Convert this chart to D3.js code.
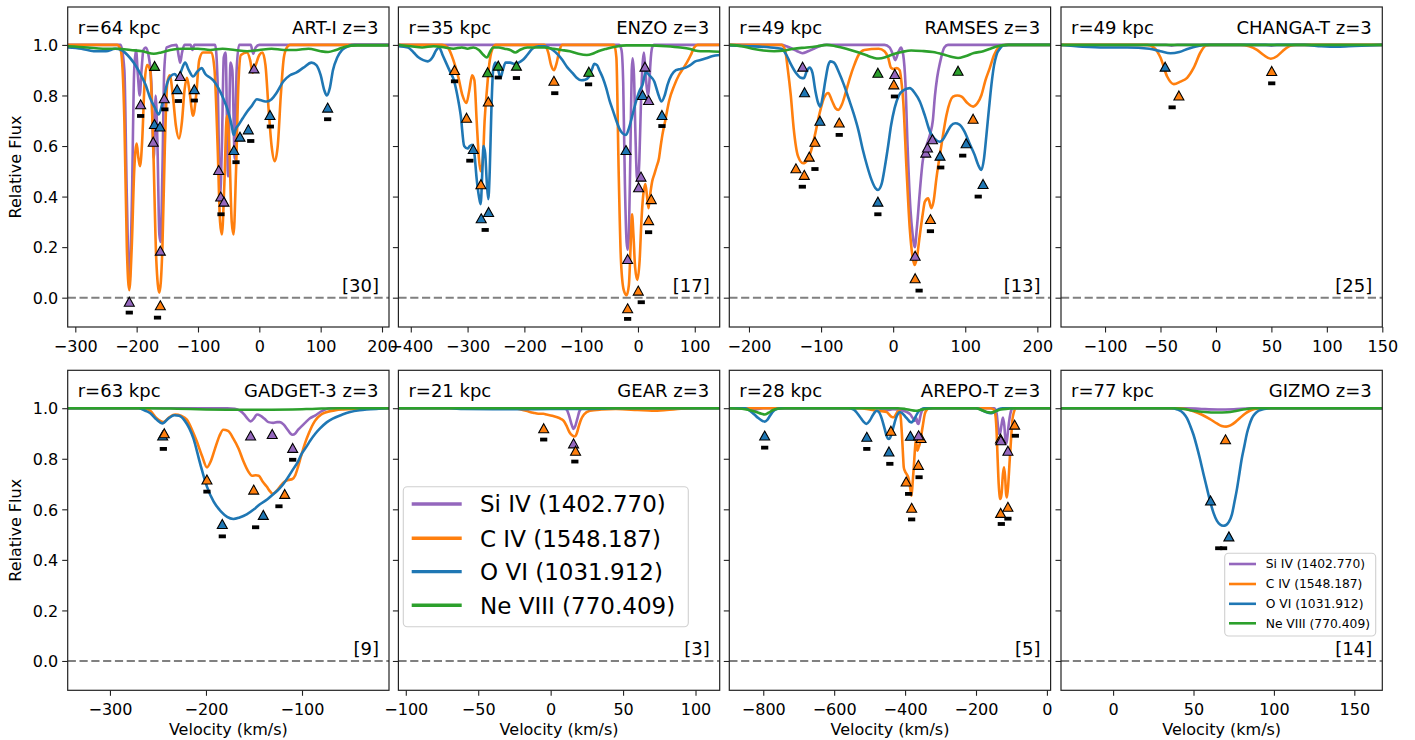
<!DOCTYPE html>
<html><head><meta charset="utf-8">
<script src="https://cdn.jsdelivr.net/npm/d3@7"></script>
<style>body{margin:0;background:#fff} text{font-family:"DejaVu Sans",sans-serif;fill:#000}</style>
</head><body>
<svg id="c" width="1415" height="740"></svg>
<script>
// ---------- panel meta ----------
const panelNames = ["ART-I","ENZO","RAMSES","CHANGA-T","GADGET-3","GEAR","AREPO-T","GIZMO"];
const panelRadii = [64,35,49,49,63,21,28,77];
const panelCounts = [30,17,13,25,9,3,5,14];
const xDomains = [[-312.4,211.4],[-421.8,143.9],[-227.3,218.4],[-139.7,150],[-344,-9.4],[-105.1,116.7],[-895.8,10.4],[-32.4,167.4]];
const xTickValues = [[-300,-200,-100,0,100,200],[-400,-300,-200,-100,0,100],[-200,-100,0,100,200],[-100,-50,0,50,100,150],[-300,-200,-100],[-100,-50,0,50,100],[-800,-600,-400,-200,0],[0,50,100,150]];
const yTickValues = [0,0.2,0.4,0.6,0.8,1.0];
const ionKeys = ["Si","C","O","Ne"];
const ionLabels = ["Si IV (1402.770)","C IV (1548.187)","O VI (1031.912)","Ne VIII (770.409)"];

// ---------- ART-I ----------
const ART_SiIV = [[-312,1],[-226,1],[-220,0.9],[-216,0.4],[-212,0.06],[-208,0.35],[-204,0.9],[-201,0.98],[-198,0.88],[-195,0.8],[-192,0.9],[-189,0.98],[-185,0.99],[-180,0.95],[-176,0.85],[-172,0.55],[-169,0.8],[-166,0.6],[-163,0.25],[-161,0.22],[-158,0.5],[-155,0.9],[-151,0.99],[-135,1],[-131,0.95],[-129,0.93],[-126,0.97],[-122,1],[-112,1],[-109,0.98],[-106,1],[-72,1],[-68,0.85],[-64,0.4],[-61,0.6],[-58,0.95],[-55,0.97],[-51,0.48],[-47,0.93],[-44,0.9],[-40,0.55],[-37,0.9],[-33,1],[-14,1],[-10,0.965],[-6,0.99],[0,1],[211,1]];
const ART_CIV = [[-312,1],[-232,1],[-226,0.98],[-220,0.7],[-216,0.2],[-212,0.03],[-208,0.2],[-204,0.5],[-200,0.61],[-197,0.55],[-194.5,0.52],[-191,0.62],[-187,0.85],[-183,0.92],[-178,0.9],[-173,0.6],[-168,0.15],[-163,0.02],[-158,0.2],[-154,0.6],[-150,0.85],[-146,0.88],[-141,0.8],[-136,0.68],[-131,0.63],[-126,0.7],[-122,0.82],[-118,0.87],[-114,0.82],[-108,0.72],[-103,0.8],[-98,0.94],[-92,0.97],[-78,0.97],[-73,0.9],[-68,0.6],[-64,0.3],[-61,0.25],[-57,0.45],[-53,0.72],[-49,0.6],[-45,0.3],[-42,0.25],[-38,0.5],[-34,0.85],[-30,0.96],[-20,0.97],[-15,0.94],[-11,0.89],[-6,0.92],[0,0.96],[5,0.97],[10,0.92],[15,0.75],[20,0.6],[25,0.54],[30,0.6],[35,0.8],[40,0.95],[45,0.99],[50,1],[211,1]];
const ART_OVI = [[-312,0.99],[-290,0.985],[-270,0.975],[-250,0.975],[-235,0.985],[-225,0.98],[-215,0.96],[-205,0.93],[-195,0.89],[-185,0.84],[-178,0.79],[-170,0.75],[-164,0.725],[-159,0.76],[-155,0.8],[-150,0.85],[-145,0.875],[-138,0.885],[-132,0.87],[-127,0.9],[-121,0.93],[-115,0.9],[-108,0.875],[-101,0.895],[-94,0.908],[-88,0.885],[-80,0.87],[-75,0.86],[-67,0.83],[-59,0.79],[-50,0.73],[-45,0.68],[-42,0.644],[-38,0.67],[-34,0.683],[-27,0.71],[-20,0.736],[-12,0.76],[-4,0.785],[4,0.78],[12,0.776],[20,0.785],[28,0.81],[39,0.855],[50,0.88],[60,0.89],[72,0.91],[85,0.93],[93,0.92],[100,0.88],[106,0.82],[110,0.8],[115,0.83],[120,0.9],[127,0.95],[135,0.98],[145,0.995],[155,1],[211,1]];
const ART_NeVIII = [[-312,0.995],[-280,0.99],[-255,0.985],[-230,0.985],[-210,0.98],[-190,0.975],[-172,0.965],[-160,0.97],[-145,0.98],[-125,0.985],[-100,0.985],[-80,0.98],[-60,0.985],[-40,0.98],[-20,0.975],[0,0.98],[20,0.985],[40,0.98],[60,0.98],[80,0.985],[100,0.975],[112,0.972],[125,0.98],[140,0.993],[160,0.998],[211,0.998]];
const ART_tri = [["Si",-212,-0.016],["C",-161.4,-0.03],["Si",-193.5,0.765],["Ne",-170.7,0.917],["Si",-173,0.617],["O",-171,0.687],["O",-162,0.677],["Si",-161.4,0.186],["Si",-155,0.789],["Si",-129,0.877],["O",-134,0.825],["O",-106,0.825],["Si",-66.3,0.505],["Si",-63,0.40],["Si",-57.6,0.38],["O",-41.5,0.584],["O",-31.5,0.637],["O",-18,0.666],["Si",-8.7,0.907],["O",17.4,0.723],["O",111.4,0.752]];
const ART_bar = [[-212,-0.059],[-166,-0.079],[-193.5,0.719],[-154,0.745],[-132,0.778],[-106,0.78],[-62.5,0.33],[-38,0.536],[-14,0.62],[18,0.677],[111.4,0.706]];

// ---------- ENZO ----------
const ENZO_SiIV = [[-422,1],[-33,1],[-29,0.98],[-26,0.85],[-23,0.45],[-20,0.22],[-18,0.19],[-16,0.25],[-13.5,0.55],[-11,0.9],[-9.4,0.947],[-7,0.88],[-4.5,0.65],[-2,0.48],[0,0.46],[2.5,0.55],[5,0.75],[8,0.92],[10.5,0.97],[13,0.9],[15.5,0.83],[18,0.8],[20,0.85],[22,0.93],[25,0.99],[28,1],[144,1]];
const ENZO_CIV = [[-422,1],[-345,1],[-335,0.99],[-325,0.94],[-316,0.87],[-309,0.8],[-302,0.77],[-297,0.82],[-292,0.88],[-288,0.86],[-284,0.7],[-280,0.55],[-277,0.5],[-273,0.55],[-270,0.7],[-266,0.82],[-262,0.92],[-257,0.98],[-250,1],[-165,1],[-158,0.97],[-153,0.92],[-148,0.9],[-143,0.93],[-138,0.98],[-133,1],[-42,1],[-38,0.95],[-34,0.5],[-30,0.15],[-25,0.03],[-20,0.01],[-16,0.05],[-13,0.2],[-10.5,0.33],[-8,0.25],[-5,0.12],[-1,0.07],[3,0.15],[6,0.3],[9,0.4],[13,0.45],[16,0.4],[18.5,0.354],[21,0.4],[25,0.46],[29,0.49],[33,0.52],[37,0.552],[40,0.6],[43,0.644],[48,0.7],[55,0.78],[64,0.84],[72,0.88],[79,0.905],[86,0.93],[93,0.96],[99,0.99],[105,1],[144,1]];
const ENZO_OVI = [[-422,0.995],[-405,0.99],[-395,0.97],[-386,0.95],[-378,0.94],[-370,0.935],[-362,0.95],[-355,0.98],[-350,0.99],[-344,0.96],[-338,0.93],[-330,0.89],[-324,0.86],[-318,0.8],[-312,0.72],[-306,0.6],[-300,0.59],[-296,0.6],[-292,0.605],[-288,0.57],[-284,0.47],[-280,0.4],[-277,0.37],[-274,0.5],[-272,0.6],[-269,0.57],[-266,0.45],[-263.5,0.39],[-261,0.5],[-258,0.75],[-255,0.9],[-251,0.93],[-246,0.9],[-242,0.87],[-238,0.9],[-233,0.93],[-225,0.93],[-218,0.925],[-210,0.93],[-203,0.94],[-195,0.96],[-186,0.985],[-175,0.995],[-165,0.995],[-150,0.98],[-140,0.96],[-133,0.94],[-124,0.91],[-115,0.888],[-108,0.87],[-100,0.86],[-93,0.862],[-86,0.875],[-80,0.91],[-77,0.925],[-72,0.92],[-68,0.9],[-62,0.87],[-56,0.83],[-50,0.78],[-44,0.74],[-38,0.7],[-33,0.67],[-27,0.65],[-21,0.644],[-16,0.67],[-10,0.72],[-3.5,0.776],[3,0.82],[8,0.842],[14,0.894],[20,0.88],[28.7,0.855],[35,0.81],[41.5,0.776],[47,0.8],[52,0.842],[59,0.88],[66.8,0.9],[75,0.905],[84,0.91],[92,0.92],[101,0.935],[110,0.94],[120,0.947],[130,0.955],[144,0.96]];
const ENZO_NeVIII = [[-422,1],[-400,0.995],[-380,0.99],[-360,0.995],[-340,0.99],[-325,0.985],[-310,0.99],[-300,0.985],[-290,0.99],[-280,0.98],[-272,0.96],[-266,0.95],[-261,0.97],[-255,0.99],[-245,0.99],[-235,0.985],[-225,0.98],[-216,0.97],[-208,0.98],[-195,0.99],[-180,0.99],[-165,0.99],[-150,0.985],[-135,0.98],[-120,0.975],[-105,0.965],[-90,0.96],[-80,0.965],[-70,0.975],[-55,0.985],[-40,0.993],[-20,0.998],[20,0.998],[50,0.995],[75,0.99],[90,0.985],[100,0.978],[110,0.975],[125,0.975],[144,0.973]];
const ENZO_tri = [["C",-323,0.901],["C",-301.8,0.712],["O",-290,0.588],["C",-276.5,0.449],["O",-276,0.314],["O",-263,0.339],["C",-263.5,0.776],["Ne",-264.7,0.892],["Ne",-246,0.918],["Ne",-214,0.918],["C",-148,0.858],["Ne",-86.5,0.894],["Si",12.3,0.914],["O",8.1,0.802],["Si",18.7,0.782],["O",42.2,0.723],["O",-21.1,0.584],["Si",5.3,0.479],["Si",1.1,0.437],["C",23.4,0.39],["C",18.7,0.307],["Si",-18.2,0.153],["C",0.5,0.028],["C",-18.2,-0.042]];
const ENZO_bar = [[-323,0.856],[-296,0.542],[-269,0.268],[-246,0.871],[-214,0.869],[-146.5,0.809],[-87,0.844],[42.2,0.679],[18.7,0.259],[5.8,-0.018],[-18.2,-0.084]];

// ---------- RAMSES ----------
const RAMSES_SiIV = [[-227,1],[-155,1],[-148,0.995],[-140,0.985],[-133,0.975],[-126,0.967],[-118,0.975],[-110,0.985],[-102,0.995],[-95,1],[-12,1],[-5,0.99],[0,0.96],[3,0.94],[7,0.97],[11,0.99],[14,0.96],[17,0.85],[20,0.6],[24,0.35],[27,0.25],[30,0.2],[33,0.28],[37,0.42],[41,0.54],[46,0.6],[51,0.644],[55,0.7],[58,0.8],[61,0.87],[65,0.93],[71,0.99],[76,1],[218,1]];
const RAMSES_CIV = [[-227,1],[-155,1],[-150,0.98],[-146,0.9],[-142,0.8],[-138,0.67],[-132,0.56],[-125,0.532],[-119,0.545],[-114,0.58],[-108,0.65],[-102,0.73],[-96,0.79],[-90,0.81],[-85,0.78],[-80,0.75],[-76,0.743],[-71,0.765],[-66,0.81],[-60,0.87],[-54,0.92],[-48,0.96],[-40,0.98],[-20,0.985],[-12,0.975],[-7,0.95],[-3,0.91],[1,0.905],[5,0.908],[9,0.9],[12,0.84],[14,0.776],[18.5,0.51],[23,0.275],[27,0.16],[30,0.129],[33,0.16],[37,0.248],[41,0.33],[44,0.38],[48.5,0.393],[53,0.354],[56,0.38],[60,0.472],[67,0.604],[74,0.723],[83,0.795],[89,0.8],[95,0.795],[103,0.77],[111,0.756],[117,0.77],[122.5,0.802],[128,0.86],[134,0.908],[140,0.96],[145.5,0.987],[152,0.998],[158,1],[218,1]];
const RAMSES_OVI = [[-227,0.998],[-200,0.995],[-170,0.99],[-155,0.985],[-148,0.96],[-143,0.93],[-135,0.89],[-128,0.87],[-124,0.868],[-120,0.895],[-116,0.91],[-112,0.89],[-108,0.82],[-104,0.77],[-101,0.756],[-98,0.79],[-94,0.86],[-90,0.92],[-87,0.935],[-82,0.93],[-75,0.89],[-68,0.84],[-62,0.79],[-55,0.73],[-48,0.66],[-42,0.584],[-36,0.52],[-30,0.466],[-25,0.435],[-21,0.426],[-16,0.45],[-11.5,0.518],[-7,0.6],[-3,0.68],[2,0.75],[8,0.8],[14,0.82],[23,0.829],[30,0.81],[37,0.776],[44,0.72],[51,0.657],[57,0.63],[64.7,0.617],[70,0.63],[74,0.65],[80,0.68],[86,0.69],[92,0.685],[99,0.657],[106,0.61],[113,0.565],[118,0.525],[122.5,0.505],[126,0.55],[129.4,0.644],[133,0.75],[136.3,0.842],[140,0.92],[143.3,0.96],[148,0.985],[152.4,0.998],[160,1],[218,1]];
const RAMSES_NeVIII = [[-227,1],[-210,0.995],[-195,0.985],[-180,0.978],[-165,0.975],[-150,0.978],[-138,0.985],[-120,0.99],[-105,0.995],[-92,1],[-80,0.995],[-65,0.985],[-50,0.972],[-38,0.96],[-28,0.95],[-20,0.946],[-10,0.952],[0,0.963],[12,0.972],[25,0.978],[40,0.976],[55,0.972],[70,0.962],[82,0.952],[90,0.948],[100,0.955],[112,0.968],[125,0.975],[135,0.985],[145,0.995],[160,1],[218,1]];
const RAMSES_tri = [["Si",-125.6,0.914],["O",-122.9,0.813],["C",-134.9,0.512],["C",-123.3,0.486],["C",-116.4,0.558],["C",-108.5,0.617],["O",-101.6,0.700],["C",-74.8,0.693],["Ne",-21.2,0.89],["O",-21.2,0.38],["C",0.9,0.844],["Si",2.3,0.885],["Si",30.5,0.166],["C",30.5,0.077],["C",51.7,0.311],["Si",45.3,0.574],["Si",47.6,0.594],["Si",54.5,0.627],["O",65,0.562],["Ne",90,0.898],["C",110.9,0.708],["O",101.2,0.611],["O",124.7,0.45]];
const RAMSES_bar = [[-126,0.439],[-108.5,0.509],[-74.8,0.644],[-21.2,0.33],[1.8,0.796],[36,0.028],[51.7,0.263],[66,0.515],[96.5,0.562],[118,0.40]];

// ---------- CHANGA-T ----------
const CHANGA_SiIV = [[-140,1],[-45,1],[-40,0.997],[-35,1],[45,1],[50,0.997],[55,1],[150,1]];
const CHANGA_CIV = [[-140,1],[-62,1],[-56,0.99],[-50,0.95],[-44,0.875],[-38,0.845],[-32,0.855],[-26,0.87],[-20,0.91],[-14,0.97],[-9,0.998],[-5,1],[22,1],[30,0.995],[37,0.98],[43,0.96],[49.5,0.945],[55,0.955],[60,0.975],[67,0.997],[72,1],[150,1]];
const CHANGA_OVI = [[-140,1],[-120,0.993],[-100,0.99],[-80,0.99],[-60,0.985],[-50,0.975],[-41,0.967],[-33,0.972],[-25,0.985],[-17,0.995],[-10,1],[80,1],[95,0.995],[110,0.993],[125,0.996],[150,1]];
const CHANGA_NeVIII = [[-140,1],[150,1]];
const CHANGA_tri = [["O",-45.8,0.914],["C",-33.4,0.8],["C",50.3,0.897]];
const CHANGA_bar = [[-39.5,0.753],[50.3,0.848]];

// ---------- GADGET-3 ----------
const GADGET_SiIV = [[-344,1],[-178,1],[-170,0.998],[-164.6,0.99],[-160,0.975],[-157,0.96],[-153.5,0.948],[-150,0.96],[-147,0.975],[-143,0.97],[-139,0.958],[-135,0.945],[-130,0.942],[-126,0.945],[-123,0.945],[-119,0.935],[-115,0.915],[-112,0.9],[-110,0.895],[-107,0.9],[-104,0.915],[-100,0.93],[-96,0.945],[-91.7,0.96],[-86,0.972],[-81,0.985],[-76,0.995],[-70,1],[-9,1]];
const GADGET_CIV = [[-344,1],[-265,1],[-258,0.99],[-251.4,0.96],[-244.4,0.945],[-238,0.965],[-232,0.975],[-226,0.97],[-220,0.955],[-214,0.91],[-209.7,0.87],[-204,0.81],[-199,0.766],[-195,0.79],[-190.6,0.84],[-186,0.89],[-182,0.915],[-177,0.91],[-171.5,0.88],[-166,0.84],[-161,0.79],[-156,0.75],[-152,0.733],[-148,0.735],[-145,0.733],[-141,0.71],[-136.8,0.69],[-133,0.67],[-130.6,0.661],[-126,0.675],[-122.9,0.69],[-118,0.71],[-114.2,0.716],[-110,0.72],[-107,0.735],[-104,0.77],[-101,0.81],[-97,0.86],[-93,0.9],[-86.5,0.95],[-80,0.975],[-74,0.985],[-65,0.992],[-57,0.995],[-40,0.998],[-32,1],[-9,1]];
const GADGET_OVI = [[-344,1],[-270,1],[-263,0.99],[-258,0.98],[-251.4,0.955],[-245.5,0.94],[-239,0.96],[-233,0.972],[-228,0.97],[-222,0.95],[-213,0.88],[-206,0.78],[-199,0.69],[-192,0.63],[-184,0.59],[-178,0.57],[-171.5,0.562],[-165,0.568],[-157.6,0.58],[-150,0.6],[-143.8,0.62],[-136,0.64],[-129.9,0.66],[-124,0.68],[-119.4,0.7],[-114,0.73],[-109,0.76],[-104,0.79],[-100.3,0.82],[-95,0.85],[-91.7,0.87],[-86,0.9],[-81.2,0.92],[-74,0.945],[-67.4,0.96],[-58,0.975],[-50,0.985],[-40,0.992],[-32.6,0.995],[-20,0.998],[-9,1]];
const GADGET_NeVIII = [[-344,1],[-260,1],[-230,0.998],[-200,0.995],[-170,0.994],[-140,0.994],[-110,0.995],[-85,0.998],[-60,1],[-9,1]];
const GADGET_tri = [["O",-245.1,0.892],["C",-243.4,0.901],["C",-199,0.718],["O",-183,0.542],["Si",-153.5,0.892],["C",-150.3,0.678],["Si",-131,0.898],["O",-140.3,0.578],["C",-118,0.661],["Si",-109.7,0.843]];
const GADGET_bar = [[-244.4,0.839],[-199,0.67],[-183,0.493],[-148.3,0.529],[-124,0.612],[-109.7,0.796]];

// ---------- GEAR ----------
const GEAR_SiIV = [[-105,1],[9,1],[11,0.995],[13,0.965],[14.5,0.935],[15.8,0.918],[17,0.93],[18.5,0.96],[20,0.99],[22,1],[117,1]];
const GEAR_CIV = [[-105,1],[-30,1],[-23,0.998],[-17,0.99],[-12,0.982],[-8.5,0.978],[-5,0.978],[-2.8,0.975],[1,0.97],[4,0.965],[7,0.958],[9,0.95],[11,0.93],[13,0.905],[15,0.892],[16.5,0.888],[18,0.9],[19.5,0.93],[21,0.955],[23,0.975],[27,0.99],[35,0.995],[45,0.997],[60,0.993],[70,0.99],[80,0.993],[90,0.998],[100,1],[117,1]];
const GEAR_OVI = [[-105,1],[-70,1],[-60,0.997],[-40,0.996],[-20,0.996],[0,0.997],[20,0.997],[35,0.998],[45,1],[117,1]];
const GEAR_NeVIII = [[-105,1],[117,1]];
const GEAR_tri = [["C",-4.8,0.921],["Si",15.8,0.861],["C",17.2,0.832]];
const GEAR_bar = [[-4.8,0.876],[16.7,0.789]];

// ---------- AREPO-T ----------
const AREPO_SiIV = [[-896,1],[-860,1],[-845,0.997],[-830,0.993],[-815,0.997],[-800,1],[-480,1],[-465,0.997],[-450,0.993],[-435,0.996],[-420,0.995],[-405,0.99],[-395,0.985],[-385,0.975],[-378,0.96],[-372,0.95],[-368,0.96],[-365,0.94],[-362,0.938],[-359,0.955],[-355,0.98],[-350,0.995],[-345,1],[-148,1],[-142,0.98],[-138,0.93],[-135,0.898],[-132,0.9],[-128.5,0.93],[-124,0.963],[-120,0.93],[-116,0.859],[-113,0.87],[-109,0.92],[-105,0.963],[-101,0.99],[-97,1],[10,1]];
const AREPO_CIV = [[-896,1],[-530,1],[-515,0.998],[-500,0.995],[-480,0.99],[-465,0.988],[-452,0.985],[-445,0.975],[-438,0.966],[-432,0.964],[-426,0.975],[-420,0.988],[-415,0.99],[-412,0.96],[-409,0.898],[-406,0.82],[-403.7,0.766],[-400,0.75],[-396,0.74],[-392,0.73],[-388.7,0.713],[-385,0.68],[-382,0.654],[-379,0.7],[-375.5,0.766],[-372,0.84],[-370,0.872],[-367,0.85],[-365,0.832],[-362,0.845],[-358.6,0.859],[-353.8,0.898],[-349,0.94],[-344.5,0.977],[-338,0.995],[-333,1],[-160,1],[-150,0.995],[-145,0.97],[-142.5,0.924],[-139,0.8],[-136,0.7],[-133,0.65],[-131,0.641],[-128,0.66],[-124,0.74],[-121,0.766],[-118,0.73],[-115,0.66],[-112.7,0.647],[-109,0.7],[-105,0.793],[-101,0.88],[-97.5,0.951],[-93,0.985],[-89,0.998],[-85,1],[10,1]];
const AREPO_OVI = [[-896,1],[-850,1],[-838,0.99],[-825,0.975],[-815,0.962],[-805,0.952],[-796,0.947],[-788,0.955],[-781,0.97],[-772,0.988],[-762,0.997],[-750,1],[-560,1],[-545,0.995],[-535,0.98],[-527,0.965],[-518,0.948],[-509,0.938],[-500,0.95],[-492,0.97],[-485,0.985],[-480,0.99],[-474,0.985],[-466,0.96],[-458,0.92],[-452,0.89],[-446,0.878],[-440,0.89],[-433,0.925],[-426,0.96],[-420,0.978],[-415,0.985],[-408,0.98],[-400,0.968],[-392,0.955],[-386,0.946],[-382,0.944],[-377,0.95],[-370,0.968],[-363,0.985],[-355,0.995],[-345,1],[-200,1],[-190,0.997],[-180,0.99],[-170,0.984],[-160,0.98],[-152,0.982],[-143,0.99],[-135,0.997],[-125,1],[10,1]];
const AREPO_NeVIII = [[-896,1],[-860,0.998],[-840,0.993],[-820,0.985],[-805,0.978],[-796,0.975],[-785,0.982],[-772,0.993],[-760,0.998],[-740,1],[-420,1],[-400,0.997],[-385,0.993],[-370,0.99],[-355,0.994],[-340,0.998],[-320,1],[-200,1],[-185,0.993],[-170,0.985],[-158,0.983],[-145,0.988],[-130,0.995],[-110,0.998],[-90,1],[10,1]];
const AREPO_tri = [["O",-796,0.892],["O",-508,0.887],["O",-445.5,0.829],["C",-440,0.911],["C",-397,0.71],["C",-381.5,0.606],["O",-385,0.891],["C",-355,0.882],["Si",-362,0.893],["C",-362.5,0.776],["C",-131,0.88],["Si",-130,0.873],["Si",-110,0.832],["C",-91,0.935],["C",-130.5,0.586],["C",-110,0.61]];
const AREPO_bar = [[-796,0.844],[-508,0.839],[-443,0.78],[-390,0.661],[-381.5,0.56],[-360.6,0.727],[-89,0.891],[-128.6,0.542],[-110,0.563]];

// ---------- GIZMO ----------
const GIZMO_SiIV = [[-32.4,1],[45,1],[55,0.997],[65,0.995],[75,0.996],[85,1],[167.4,1]];
const GIZMO_CIV = [[-32.4,1],[40,1],[45,0.997],[50,0.988],[55,0.975],[60,0.958],[64.5,0.94],[67.5,0.93],[70.3,0.927],[73,0.932],[76,0.945],[79,0.962],[82,0.978],[85,0.99],[88,0.997],[92,1],[167.4,1]];
const GIZMO_OVI = [[-32.4,1],[36,1],[40,0.995],[43.8,0.98],[46,0.96],[48,0.93],[50,0.895],[52,0.85],[54,0.8],[56.2,0.74],[58.3,0.685],[60.4,0.63],[62.5,0.585],[64.5,0.555],[66.5,0.54],[68.5,0.535],[70.3,0.538],[72,0.55],[73.9,0.58],[75.5,0.63],[77,0.68],[78.5,0.74],[80,0.8],[81.6,0.85],[83.2,0.9],[84.8,0.935],[86.3,0.96],[88.5,0.98],[90.5,0.99],[94,0.997],[98,1],[167.4,1]];
const GIZMO_NeVIII = [[-32.4,1],[38,1],[44,0.997],[50,0.99],[57,0.985],[64.5,0.983],[71,0.984],[77,0.99],[82,0.996],[87,1],[167.4,1]];
const GIZMO_tri = [["C",69.9,0.877],["O",60.6,0.635],["O",72,0.493]];
const GIZMO_bar = [[65.7,0.446],[68.7,0.446]];

// ---------- tables built from the arrays ----------
const spectra = [
  [ART_SiIV, ART_CIV, ART_OVI, ART_NeVIII],
  [ENZO_SiIV, ENZO_CIV, ENZO_OVI, ENZO_NeVIII],
  [RAMSES_SiIV, RAMSES_CIV, RAMSES_OVI, RAMSES_NeVIII],
  [CHANGA_SiIV, CHANGA_CIV, CHANGA_OVI, CHANGA_NeVIII],
  [GADGET_SiIV, GADGET_CIV, GADGET_OVI, GADGET_NeVIII],
  [GEAR_SiIV, GEAR_CIV, GEAR_OVI, GEAR_NeVIII],
  [AREPO_SiIV, AREPO_CIV, AREPO_OVI, AREPO_NeVIII],
  [GIZMO_SiIV, GIZMO_CIV, GIZMO_OVI, GIZMO_NeVIII]
];
const triangles = [ART_tri, ENZO_tri, RAMSES_tri, CHANGA_tri, GADGET_tri, GEAR_tri, AREPO_tri, GIZMO_tri];
const bars = [ART_bar, ENZO_bar, RAMSES_bar, CHANGA_bar, GADGET_bar, GEAR_bar, AREPO_bar, GIZMO_bar];

// ---------- drawing ----------
const colors = {Si:"#9467bd", C:"#ff7f0e", O:"#1f77b4", Ne:"#2ca02c"};
const svg = d3.select("#c");
const lefts = [67.7, 398.4, 729.3, 1061];
const tops = [7, 370.3];
const W = 321.3, H = 320;
const yDomain = [-0.116, 1.150];

panelNames.forEach((name, i) => {
  const col = i % 4, row = Math.floor(i / 4);
  const g = svg.append("g").attr("transform", `translate(${lefts[col]},${tops[row]})`);
  const x = d3.scaleLinear().domain(xDomains[i]).range([0, W]);
  const y = d3.scaleLinear().domain(yDomain).range([H, 0]);

  const cid = "clip" + i;
  g.append("clipPath").attr("id", cid).append("rect").attr("width", W).attr("height", H);
  const plot = g.append("g").attr("clip-path", `url(#${cid})`);

  // zero line
  plot.append("line").attr("x1", 0).attr("x2", W).attr("y1", y(0)).attr("y2", y(0))
    .attr("stroke", "#808080").attr("stroke-width", 2).attr("stroke-dasharray", "8.2,3.6");

  const line = d3.line().x(d => x(d[0])).y(d => y(d[1])).curve(d3.curveMonotoneX);
  spectra[i].forEach((s, k) => {
    plot.append("path").datum(s).attr("d", line).attr("fill", "none")
      .attr("stroke", colors[ionKeys[k]]).attr("stroke-width", 2.6)
      .attr("stroke-linejoin", "round").attr("stroke-linecap", "butt");
  });

  // black bars
  plot.selectAll("rect.bar").data(bars[i]).enter().append("rect").attr("class", "bar")
    .attr("x", d => x(d[0]) - 3.6).attr("y", d => y(d[1]) - 1.9)
    .attr("width", 7.2).attr("height", 3.8).attr("fill", "#000");

  // triangles
  const tw = 10, th = 9;
  plot.selectAll("path.tri").data(triangles[i]).enter().append("path").attr("class", "tri")
    .attr("d", `M0,${-th/2}L${tw/2},${th/2}L${-tw/2},${th/2}Z`)
    .attr("transform", d => `translate(${x(d[1])},${y(d[2])})`)
    .attr("fill", d => colors[d[0]]).attr("stroke", "#000").attr("stroke-width", 1.1)
    .attr("stroke-linejoin", "miter");

  // axes
  const xa = g.append("g").attr("transform", `translate(0,${H})`)
    .call(d3.axisBottom(x).tickValues(xTickValues[i]).tickSize(5.5).tickFormat(d3.format("d")));
  xa.select(".domain").remove();
  xa.selectAll("line").attr("stroke", "#222").attr("stroke-width", 1.1);
  xa.selectAll("text").attr("y", 24.5).attr("dy", null).style("font-size", "16px")
    .style("font-family", "DejaVu Sans").attr("fill", "#000");

  const ya = g.append("g")
    .call(d3.axisLeft(y).tickValues(yTickValues).tickSize(5.5)
      .tickFormat(col === 0 ? d3.format(".1f") : () => ""));
  ya.select(".domain").remove();
  ya.selectAll("line").attr("stroke", "#222").attr("stroke-width", 1.1);
  ya.selectAll("text").attr("x", -9.5).attr("dy", "0.36em").style("font-size", "16px")
    .style("font-family", "DejaVu Sans").attr("fill", "#000");

  // frame
  g.append("rect").attr("width", W).attr("height", H).attr("fill", "none")
    .attr("stroke", "#222").attr("stroke-width", 1.2);

  // annotations
  g.append("text").attr("x", 10).attr("y", 27).style("font-size", "18px").text(`r=${panelRadii[i]} kpc`);
  g.append("text").attr("x", W - 10.5).attr("y", 27).attr("text-anchor", "end").style("font-size", "18px").text(`${name} z=3`);
  g.append("text").attr("x", W - 10).attr("y", y(0) - 6).attr("text-anchor", "end").style("font-size", "18px").text(`[${panelCounts[i]}]`);

  if (col === 0) {
    g.append("text").attr("transform", `translate(${21.5 - lefts[0]},${H / 2}) rotate(-90)`)
      .attr("text-anchor", "middle").style("font-size", "16px").text("Relative Flux");
  }
  if (row === 1) {
    g.append("text").attr("x", W / 2).attr("y", 735.5 - tops[1]).attr("text-anchor", "middle")
      .style("font-size", "16px").text("Velocity (km/s)");
  }
});

// legends
function legend(bx, by, bw, bh, rows, hx0, hx1, tx, fs, lw) {
  const lg = svg.append("g");
  lg.append("rect").attr("x", bx).attr("y", by).attr("width", bw).attr("height", bh)
    .attr("rx", 4).attr("fill", "#fff").attr("fill-opacity", 0.85).attr("stroke", "#d0d0d0").attr("stroke-width", 1.1);
  ionLabels.forEach((lab, k) => {
    lg.append("line").attr("x1", hx0).attr("x2", hx1).attr("y1", rows[k]).attr("y2", rows[k])
      .attr("stroke", colors[ionKeys[k]]).attr("stroke-width", lw);
    lg.append("text").attr("x", tx).attr("y", rows[k]).attr("dy", "0.36em")
      .style("font-size", fs + "px").text(lab);
  });
}
legend(403.3, 486.7, 285, 140, [504, 538.3, 571.6, 605.3], 411.7, 461.7, 480, 23, 3.4);
legend(1224.7, 553.3, 151, 82.7, [564, 584, 603.8, 623.3], 1229, 1256, 1265.7, 12.3, 2.6);
</script>
</body></html>
